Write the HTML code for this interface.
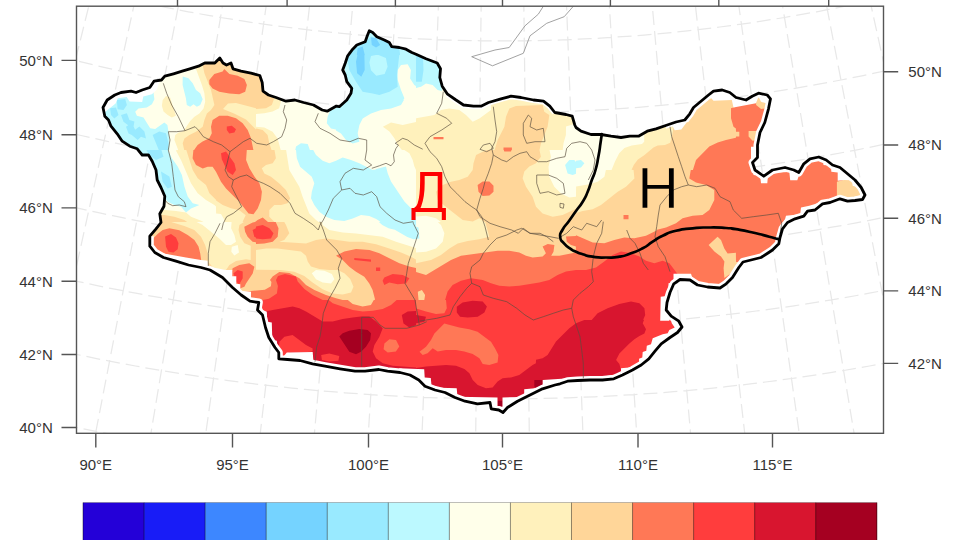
<!DOCTYPE html>
<html lang="mn"><head><meta charset="utf-8"><title>Map</title>
<style>html,body{margin:0;padding:0;background:#fff;overflow:hidden}svg{display:block}</style>
</head><body>
<svg width="960" height="540" viewBox="0 0 960 540">
<defs><clipPath id="frame"><rect x="76.5" y="6.2" width="807" height="427.1"/></clipPath>
<clipPath id="land"><path d="M103 107.5 L107.2 100 L114.8 95 L121 92.5 L131 91.2 L136 92.5 L142.2 90 L149.8 87.5 L154 81.2 L161.5 80 L164.8 76.2 L173.5 73.8 L182.2 71.2 L189.8 68.8 L198.5 66.2 L204.8 63 L214.8 63 L219.8 58 L223 63 L226.5 65 L231 63 L233 68.8 L241 71.2 L251 73.2 L259.8 75.5 L262.2 82.5 L263 91.2 L268.5 95 L276 97.5 L286 101.2 L294.8 100 L303.5 102.5 L313.5 105 L322.2 110 L327.2 111.2 L336 106.2 L339.3 106.7 L346.8 100 L351 93.3 L351.8 88.3 L346.8 81.7 L345.2 75 L342.7 70 L345.2 63.3 L347.7 55.8 L352.7 49.2 L356.8 45 L365.2 41.7 L367.3 35.8 L369.3 30.8 L372.7 32.5 L376.8 36.7 L384.3 40 L389.3 42.5 L391.8 46.7 L399.3 47.5 L406 49.2 L411.8 52.5 L416 54.2 L426 58.8 L437.2 63 L440.5 68.8 L439.8 77.5 L442.2 86.2 L447.2 93.8 L456 100 L463.5 105 L473.5 106.2 L481 106.2 L488.5 102.5 L501 98.8 L511 96.2 L521 97.5 L533.5 100 L543.5 101.2 L549.8 106.2 L554.8 112.5 L566 114.5 L572.2 116.2 L574.8 125 L576 127.5 L581 131.2 L591 134.5 L601 134.5 L611 136.2 L621 137.5 L629.8 136.2 L638.5 136.2 L647.2 131.2 L656 128.8 L667.2 125 L676 122 L684.8 120 L689.8 113.8 L693.5 107.5 L701 101.2 L708.5 95 L713.5 91.2 L722.2 90 L729.8 92.5 L736 97.5 L746 100 L752.2 96.2 L758.5 93.2 L767.2 95 L770.5 98.8 L768.5 108.8 L764.8 122.5 L760 132.5 L757.5 145 L757.5 157.5 L752.5 162.5 L755 170 L763.8 176.2 L772.5 170 L785 167.5 L793.8 170 L798.8 172.5 L803.8 163.8 L810 158.8 L818.8 157 L826.2 160 L832.5 165 L840 167.5 L847.5 173.8 L855 180 L861.2 187.5 L865 195 L862.5 199.5 L855 200.5 L847.5 201.2 L840 198.8 L830 202.5 L822.5 203.8 L815 210 L807.5 211.2 L803.8 216.2 L795 218.8 L787.5 222.5 L782.5 228.8 L780 237.5 L778.8 243.8 L772.5 250 L768 253 L761 257.5 L751 260 L743 262 L738.8 267.5 L732.5 277.5 L726.2 283.8 L720 288 L707.5 287 L697.5 285 L690 280 L680 279.5 L673.8 283.8 L670 292.5 L667 302.5 L666.2 310 L671.2 316.2 L678.8 321.2 L682 327 L677.5 332.5 L670 337.5 L661.2 343.8 L655 351.2 L648.8 358.8 L641.2 365 L632.5 370 L622.5 375 L613.8 378.8 L602.5 380 L590 380 L577.5 380.5 L567.5 381.2 L560 383.8 L555 385 L542.5 388.8 L530 395 L517.5 401.2 L507.5 407.5 L503 412.5 L498.8 410 L491.2 408.8 L490 402.5 L477.5 403.8 L465 401.2 L455 397.5 L445 392.5 L435 390 L425 386.2 L418.8 380 L410 375 L400 372.5 L387.5 371.2 L378.8 369.5 L365 371.2 L355 371.2 L340 368.8 L325 366.2 L312.5 363.8 L300 360.5 L287.5 359.5 L278.8 358.8 L278.8 352.5 L275 347.5 L268.8 337.5 L265.5 327.5 L262.5 315 L257.5 310 L258.8 302.5 L250 301.2 L241.2 295 L232.5 287.5 L222.5 277.5 L210 270 L201 267.5 L188.5 265 L176 261.2 L163.5 257.5 L154.8 252.5 L149.8 246.2 L149.8 236.2 L156 228.8 L161 222.5 L159.8 213.8 L164 206.2 L164.8 196.2 L161 187.5 L157.2 180 L156 170 L152.2 161.2 L148.5 155 L142.2 155 L137.2 148.8 L129.8 146.2 L122.2 141.2 L117.2 133.8 L111 126.2 L108.5 120 L104.8 116.2Z"/></clipPath></defs>
<rect width="960" height="540" fill="#fff"/>
<g clip-path="url(#frame)"><path d="M88.2587 -158.067 L-82.2866 463.168 M126.892 -147.99 L-27.7473 477.395 M165.771 -138.901 L27.1373 490.226 M204.868 -130.807 L82.3314 501.652 M244.159 -123.713 L137.799 511.666 M283.619 -117.624 L193.504 520.262 M323.221 -112.544 L249.41 527.433 M362.939 -108.476 L305.481 533.176 M402.749 -105.423 L361.681 537.487 M442.623 -103.386 L417.972 540.362 M482.537 -102.367 L474.318 541.8 M522.463 -102.367 L530.682 541.8 M562.377 -103.386 L587.028 540.362 M602.251 -105.423 L643.319 537.487 M642.061 -108.476 L699.519 533.176 M681.779 -112.544 L755.59 527.433 M721.381 -117.624 L811.496 520.262 M760.841 -123.713 L867.201 511.666 M800.132 -130.807 L922.669 501.652 M839.229 -138.901 L977.863 490.226 M878.108 -147.99 L1032.75 477.395 M916.741 -158.067 L1087.29 463.168 M-190.2 430.6 L-176.8 434.9 L-163.4 439.2 L-149.9 443.4 L-136.4 447.6 L-122.9 451.6 L-109.4 455.5 L-95.9 459.4 L-82.3 463.2 L-68.7 466.9 L-55.1 470.5 L-41.4 474 L-27.7 477.4 L-14.1 480.7 L-0.3 484 L13.4 487.1 L27.1 490.2 L40.9 493.2 L54.7 496.1 L68.5 498.9 L82.3 501.7 L96.2 504.3 L110 506.8 L123.9 509.3 L137.8 511.7 L151.7 513.9 L165.6 516.1 L179.6 518.2 L193.5 520.3 L207.5 522.2 L221.4 524 L235.4 525.8 L249.4 527.4 L263.4 529 L277.4 530.5 L291.5 531.9 L305.5 533.2 L319.5 534.4 L333.6 535.5 L347.6 536.5 L361.7 537.5 L375.7 538.3 L389.8 539.1 L403.9 539.8 L418 540.4 L432.1 540.9 L446.1 541.3 L460.2 541.6 L474.3 541.8 L488.4 541.9 L502.5 542 L516.6 541.9 L530.7 541.8 L544.8 541.6 L558.9 541.3 L572.9 540.9 L587 540.4 L601.1 539.8 L615.2 539.1 L629.3 538.3 L643.3 537.5 L657.4 536.5 L671.4 535.5 L685.5 534.4 L699.5 533.2 L713.5 531.9 L727.6 530.5 L741.6 529 L755.6 527.4 L769.6 525.8 L783.6 524 L797.5 522.2 L811.5 520.3 L825.4 518.2 L839.4 516.1 L853.3 513.9 L867.2 511.7 L881.1 509.3 L895 506.8 L908.8 504.3 L922.7 501.7 L936.5 498.9 L950.3 496.1 L964.1 493.2 L977.9 490.2 L991.6 487.1 L1005.3 484 L1019.1 480.7 L1032.7 477.4 L1046.4 474 L1060.1 470.5 L1073.7 466.9 L1087.3 463.2 L1100.9 459.4 L1114.4 455.5 L1127.9 451.6 L1141.4 447.6 L1154.9 443.4 L1168.4 439.2 L1181.8 434.9 L1195.2 430.6 M-167.7 362.6 L-154.8 366.8 L-141.8 371 L-128.8 375 L-115.7 379 L-102.7 382.9 L-89.6 386.8 L-76.5 390.5 L-63.3 394.1 L-50.2 397.7 L-37 401.2 L-23.8 404.6 L-10.6 407.9 L2.7 411.1 L15.9 414.3 L29.2 417.3 L42.5 420.3 L55.9 423.2 L69.2 426 L82.6 428.7 L95.9 431.4 L109.3 433.9 L122.8 436.4 L136.2 438.8 L149.6 441.1 L163.1 443.3 L176.5 445.4 L190 447.4 L203.5 449.4 L217 451.2 L230.5 453 L244.1 454.7 L257.6 456.3 L271.2 457.8 L284.7 459.3 L298.3 460.6 L311.9 461.9 L325.4 463.1 L339 464.1 L352.6 465.1 L366.2 466.1 L379.9 466.9 L393.5 467.6 L407.1 468.3 L420.7 468.8 L434.3 469.3 L448 469.7 L461.6 470 L475.2 470.2 L488.9 470.4 L502.5 470.4 L516.1 470.4 L529.8 470.2 L543.4 470 L557 469.7 L570.7 469.3 L584.3 468.8 L597.9 468.3 L611.5 467.6 L625.1 466.9 L638.8 466.1 L652.4 465.1 L666 464.1 L679.6 463.1 L693.1 461.9 L706.7 460.6 L720.3 459.3 L733.8 457.8 L747.4 456.3 L760.9 454.7 L774.5 453 L788 451.2 L801.5 449.4 L815 447.4 L828.5 445.4 L841.9 443.3 L855.4 441.1 L868.8 438.8 L882.2 436.4 L895.7 433.9 L909.1 431.4 L922.4 428.7 L935.8 426 L949.1 423.2 L962.5 420.3 L975.8 417.3 L989.1 414.3 L1002.3 411.1 L1015.6 407.9 L1028.8 404.6 L1042 401.2 L1055.2 397.7 L1068.3 394.1 L1081.5 390.5 L1094.6 386.8 L1107.7 382.9 L1120.7 379 L1133.8 375 L1146.8 371 L1159.8 366.8 L1172.7 362.6 M-145.3 294.6 L-132.8 298.7 L-120.2 302.7 L-107.6 306.7 L-95 310.5 L-82.4 314.3 L-69.8 318 L-57.1 321.6 L-44.4 325.1 L-31.7 328.6 L-18.9 331.9 L-6.2 335.2 L6.6 338.4 L19.4 341.5 L32.2 344.6 L45.1 347.5 L57.9 350.4 L70.8 353.2 L83.7 355.9 L96.6 358.6 L109.6 361.1 L122.5 363.6 L135.5 366 L148.4 368.3 L161.4 370.5 L174.4 372.6 L187.5 374.7 L200.5 376.6 L213.5 378.5 L226.6 380.3 L239.6 382 L252.7 383.7 L265.8 385.2 L278.9 386.7 L292 388.1 L305.1 389.4 L318.2 390.6 L331.4 391.7 L344.5 392.8 L357.7 393.7 L370.8 394.6 L384 395.4 L397.1 396.1 L410.3 396.8 L423.4 397.3 L436.6 397.8 L449.8 398.1 L463 398.4 L476.1 398.7 L489.3 398.8 L502.5 398.8 L515.7 398.8 L528.9 398.7 L542 398.4 L555.2 398.1 L568.4 397.8 L581.6 397.3 L594.7 396.8 L607.9 396.1 L621 395.4 L634.2 394.6 L647.3 393.7 L660.5 392.8 L673.6 391.7 L686.8 390.6 L699.9 389.4 L713 388.1 L726.1 386.7 L739.2 385.2 L752.3 383.7 L765.4 382 L778.4 380.3 L791.5 378.5 L804.5 376.6 L817.5 374.7 L830.6 372.6 L843.6 370.5 L856.6 368.3 L869.5 366 L882.5 363.6 L895.4 361.1 L908.4 358.6 L921.3 355.9 L934.2 353.2 L947.1 350.4 L959.9 347.5 L972.8 344.6 L985.6 341.5 L998.4 338.4 L1011.2 335.2 L1023.9 331.9 L1036.7 328.6 L1049.4 325.1 L1062.1 321.6 L1074.8 318 L1087.4 314.3 L1100 310.5 L1112.6 306.7 L1125.2 302.7 L1137.8 298.7 L1150.3 294.6 M-122.9 226.7 L-110.8 230.6 L-98.6 234.5 L-86.5 238.3 L-74.3 242 L-62.1 245.6 L-49.9 249.2 L-37.7 252.7 L-25.4 256.1 L-13.2 259.4 L-0.9 262.7 L11.5 265.8 L23.8 268.9 L36.2 271.9 L48.5 274.9 L60.9 277.7 L73.3 280.5 L85.8 283.2 L98.2 285.8 L110.7 288.4 L123.2 290.8 L135.7 293.2 L148.2 295.5 L160.7 297.7 L173.3 299.9 L185.8 301.9 L198.4 303.9 L211 305.8 L223.5 307.6 L236.1 309.4 L248.8 311 L261.4 312.6 L274 314.1 L286.7 315.5 L299.3 316.9 L312 318.1 L324.6 319.3 L337.3 320.4 L350 321.4 L362.7 322.3 L375.4 323.2 L388.1 324 L400.8 324.6 L413.5 325.3 L426.2 325.8 L438.9 326.2 L451.6 326.6 L464.3 326.9 L477.1 327.1 L489.8 327.2 L502.5 327.2 L515.2 327.2 L527.9 327.1 L540.7 326.9 L553.4 326.6 L566.1 326.2 L578.8 325.8 L591.5 325.3 L604.2 324.6 L616.9 324 L629.6 323.2 L642.3 322.3 L655 321.4 L667.7 320.4 L680.4 319.3 L693 318.1 L705.7 316.9 L718.3 315.5 L731 314.1 L743.6 312.6 L756.2 311 L768.9 309.4 L781.5 307.6 L794 305.8 L806.6 303.9 L819.2 301.9 L831.7 299.9 L844.3 297.7 L856.8 295.5 L869.3 293.2 L881.8 290.8 L894.3 288.4 L906.8 285.8 L919.2 283.2 L931.7 280.5 L944.1 277.7 L956.5 274.9 L968.8 271.9 L981.2 268.9 L993.5 265.8 L1005.9 262.7 L1018.2 259.4 L1030.4 256.1 L1042.7 252.7 L1054.9 249.2 L1067.1 245.6 L1079.3 242 L1091.5 238.3 L1103.6 234.5 L1115.8 230.6 L1127.9 226.7 M-100.4 158.7 L-88.7 162.5 L-77.1 166.2 L-65.4 169.9 L-53.6 173.5 L-41.9 177 L-30.1 180.4 L-18.3 183.8 L-6.5 187.1 L5.3 190.3 L17.2 193.4 L29.1 196.5 L41 199.4 L52.9 202.4 L64.8 205.2 L76.8 207.9 L88.8 210.6 L100.7 213.2 L112.7 215.7 L124.8 218.2 L136.8 220.6 L148.8 222.9 L160.9 225.1 L173 227.2 L185.1 229.3 L197.2 231.3 L209.3 233.2 L221.4 235 L233.6 236.8 L245.7 238.4 L257.9 240 L270 241.6 L282.2 243 L294.4 244.4 L306.6 245.7 L318.8 246.9 L331 248 L343.2 249.1 L355.5 250 L367.7 250.9 L379.9 251.7 L392.2 252.5 L404.4 253.2 L416.7 253.7 L428.9 254.3 L441.2 254.7 L453.4 255 L465.7 255.3 L478 255.5 L490.2 255.6 L502.5 255.7 L514.8 255.6 L527 255.5 L539.3 255.3 L551.6 255 L563.8 254.7 L576.1 254.3 L588.3 253.7 L600.6 253.2 L612.8 252.5 L625.1 251.7 L637.3 250.9 L649.5 250 L661.8 249.1 L674 248 L686.2 246.9 L698.4 245.7 L710.6 244.4 L722.8 243 L735 241.6 L747.1 240 L759.3 238.4 L771.4 236.8 L783.6 235 L795.7 233.2 L807.8 231.3 L819.9 229.3 L832 227.2 L844.1 225.1 L856.2 222.9 L868.2 220.6 L880.2 218.2 L892.3 215.7 L904.3 213.2 L916.2 210.6 L928.2 207.9 L940.2 205.2 L952.1 202.4 L964 199.4 L975.9 196.5 L987.8 193.4 L999.7 190.3 L1011.5 187.1 L1023.3 183.8 L1035.1 180.4 L1046.9 177 L1058.6 173.5 L1070.4 169.9 L1082.1 166.2 L1093.7 162.5 L1105.4 158.7 M-78 90.7 L-66.7 94.4 L-55.5 98 L-44.2 101.5 L-32.9 105 L-21.6 108.3 L-10.3 111.6 L1.1 114.9 L12.5 118 L23.9 121.1 L35.3 124.1 L46.7 127.1 L58.2 130 L69.6 132.8 L81.1 135.5 L92.6 138.1 L104.2 140.7 L115.7 143.2 L127.3 145.6 L138.8 148 L150.4 150.3 L162 152.5 L173.6 154.6 L185.2 156.7 L196.9 158.7 L208.5 160.6 L220.2 162.4 L231.9 164.2 L243.6 165.9 L255.3 167.5 L267 169 L278.7 170.5 L290.4 171.9 L302.2 173.2 L313.9 174.4 L325.6 175.6 L337.4 176.7 L349.2 177.7 L360.9 178.7 L372.7 179.5 L384.5 180.3 L396.3 181 L408.1 181.7 L419.9 182.2 L431.7 182.7 L443.5 183.1 L455.3 183.5 L467.1 183.7 L478.9 183.9 L490.7 184 L502.5 184.1 L514.3 184 L526.1 183.9 L537.9 183.7 L549.7 183.5 L561.5 183.1 L573.3 182.7 L585.1 182.2 L596.9 181.7 L608.7 181 L620.5 180.3 L632.3 179.5 L644.1 178.7 L655.8 177.7 L667.6 176.7 L679.4 175.6 L691.1 174.4 L702.8 173.2 L714.6 171.9 L726.3 170.5 L738 169 L749.7 167.5 L761.4 165.9 L773.1 164.2 L784.8 162.4 L796.5 160.6 L808.1 158.7 L819.8 156.7 L831.4 154.6 L843 152.5 L854.6 150.3 L866.2 148 L877.7 145.6 L889.3 143.2 L900.8 140.7 L912.4 138.1 L923.9 135.5 L935.4 132.8 L946.8 130 L958.3 127.1 L969.7 124.1 L981.1 121.1 L992.5 118 L1003.9 114.9 L1015.3 111.6 L1026.6 108.3 L1037.9 105 L1049.2 101.5 L1060.5 98 L1071.7 94.4 L1083 90.7 M-55.5 22.7 L-44.7 26.3 L-33.9 29.7 L-23.1 33.1 L-12.2 36.4 L-1.3 39.7 L9.6 42.9 L20.5 46 L31.4 49 L42.4 52 L53.3 54.9 L64.3 57.7 L75.3 60.5 L86.4 63.2 L97.4 65.8 L108.5 68.3 L119.6 70.8 L130.7 73.2 L141.8 75.6 L152.9 77.8 L164 80 L175.2 82.1 L186.3 84.2 L197.5 86.2 L208.7 88.1 L219.9 89.9 L231.1 91.7 L242.3 93.4 L253.6 95 L264.8 96.6 L276.1 98 L287.3 99.4 L298.6 100.8 L309.9 102 L321.2 103.2 L332.5 104.4 L343.8 105.4 L355.1 106.4 L366.4 107.3 L377.7 108.1 L389.1 108.9 L400.4 109.6 L411.7 110.2 L423.1 110.7 L434.4 111.2 L445.8 111.6 L457.1 111.9 L468.4 112.2 L479.8 112.4 L491.1 112.5 L502.5 112.5 L513.9 112.5 L525.2 112.4 L536.6 112.2 L547.9 111.9 L559.2 111.6 L570.6 111.2 L581.9 110.7 L593.3 110.2 L604.6 109.6 L615.9 108.9 L627.3 108.1 L638.6 107.3 L649.9 106.4 L661.2 105.4 L672.5 104.4 L683.8 103.2 L695.1 102 L706.4 100.8 L717.7 99.4 L728.9 98 L740.2 96.6 L751.4 95 L762.7 93.4 L773.9 91.7 L785.1 89.9 L796.3 88.1 L807.5 86.2 L818.7 84.2 L829.8 82.1 L841 80 L852.1 77.8 L863.2 75.6 L874.3 73.2 L885.4 70.8 L896.5 68.3 L907.6 65.8 L918.6 63.2 L929.7 60.5 L940.7 57.7 L951.7 54.9 L962.6 52 L973.6 49 L984.5 46 L995.4 42.9 L1006.3 39.7 L1017.2 36.4 L1028.1 33.1 L1038.9 29.7 L1049.7 26.3 L1060.5 22.7 M-33.1 -45.2 L-22.7 -41.8 L-12.3 -38.5 L-1.9 -35.3 L8.5 -32.1 L18.9 -29 L29.4 -25.9 L39.9 -22.9 L50.4 -20 L60.9 -17.2 L71.4 -14.4 L82 -11.7 L92.5 -9 L103.1 -6.4 L113.7 -3.9 L124.3 -1.5 L135 0.9 L145.6 3.2 L156.3 5.5 L166.9 7.6 L177.6 9.7 L188.3 11.8 L199.1 13.7 L209.8 15.6 L220.5 17.5 L231.3 19.2 L242 20.9 L252.8 22.6 L263.6 24.1 L274.4 25.6 L285.2 27 L296 28.4 L306.8 29.7 L317.6 30.9 L328.5 32 L339.3 33.1 L350.2 34.1 L361 35.1 L371.9 35.9 L382.8 36.7 L393.6 37.4 L404.5 38.1 L415.4 38.7 L426.3 39.2 L437.1 39.7 L448 40.1 L458.9 40.4 L469.8 40.6 L480.7 40.8 L491.6 40.9 L502.5 40.9 L513.4 40.9 L524.3 40.8 L535.2 40.6 L546.1 40.4 L557 40.1 L567.9 39.7 L578.7 39.2 L589.6 38.7 L600.5 38.1 L611.4 37.4 L622.2 36.7 L633.1 35.9 L644 35.1 L654.8 34.1 L665.7 33.1 L676.5 32 L687.4 30.9 L698.2 29.7 L709 28.4 L719.8 27 L730.6 25.6 L741.4 24.1 L752.2 22.6 L763 20.9 L773.7 19.2 L784.5 17.5 L795.2 15.6 L805.9 13.7 L816.7 11.8 L827.4 9.7 L838.1 7.6 L848.7 5.5 L859.4 3.2 L870 0.9 L880.7 -1.5 L891.3 -3.9 L901.9 -6.4 L912.5 -9 L923 -11.7 L933.6 -14.4 L944.1 -17.2 L954.6 -20 L965.1 -22.9 L975.6 -25.9 L986.1 -29 L996.5 -32.1 L1006.9 -35.3 L1017.3 -38.5 L1027.7 -41.8 L1038.1 -45.2 M-10.6 -113.2 L-0.7 -110 L9.2 -106.8 L19.2 -103.7 L29.2 -100.6 L39.2 -97.6 L49.2 -94.7 L59.3 -91.8 L69.3 -89 L79.4 -86.3 L89.5 -83.6 L99.6 -81 L109.7 -78.5 L119.9 -76 L130 -73.6 L140.2 -71.3 L150.4 -69 L160.6 -66.8 L170.8 -64.6 L181 -62.6 L191.3 -60.5 L201.5 -58.6 L211.8 -56.7 L222.1 -54.9 L232.3 -53.1 L242.6 -51.4 L253 -49.8 L263.3 -48.2 L273.6 -46.7 L283.9 -45.3 L294.3 -44 L304.7 -42.7 L315 -41.4 L325.4 -40.3 L335.8 -39.2 L346.2 -38.1 L356.6 -37.2 L367 -36.3 L377.4 -35.5 L387.8 -34.7 L398.2 -34 L408.6 -33.4 L419 -32.8 L429.5 -32.3 L439.9 -31.9 L450.3 -31.5 L460.8 -31.2 L471.2 -31 L481.6 -30.8 L492.1 -30.7 L502.5 -30.7 L512.9 -30.7 L523.4 -30.8 L533.8 -31 L544.2 -31.2 L554.7 -31.5 L565.1 -31.9 L575.5 -32.3 L586 -32.8 L596.4 -33.4 L606.8 -34 L617.2 -34.7 L627.6 -35.5 L638 -36.3 L648.4 -37.2 L658.8 -38.1 L669.2 -39.2 L679.6 -40.3 L690 -41.4 L700.3 -42.7 L710.7 -44 L721.1 -45.3 L731.4 -46.7 L741.7 -48.2 L752 -49.8 L762.4 -51.4 L772.7 -53.1 L782.9 -54.9 L793.2 -56.7 L803.5 -58.6 L813.7 -60.5 L824 -62.6 L834.2 -64.6 L844.4 -66.8 L854.6 -69 L864.8 -71.3 L875 -73.6 L885.1 -76 L895.3 -78.5 L905.4 -81 L915.5 -83.6 L925.6 -86.3 L935.7 -89 L945.7 -91.8 L955.8 -94.7 L965.8 -97.6 L975.8 -100.6 L985.8 -103.7 L995.8 -106.8 L1005.7 -110 L1015.6 -113.2" fill="none" stroke="#e8e8e8" stroke-width="1.25" stroke-dasharray="14 6"/></g>
<g clip-path="url(#frame)"><path d="M543.3 6.3 L538.3 14.2 L525 25.8 L509.2 47.5 L495 50 L471.7 56.7 L492.5 65.8 L523.3 53.3 L530 35.8 L546.7 23.3 L564.2 16.7 L573.3 6.3 L585 -8 L535 -8Z" fill="none" stroke="#8a8a8a" stroke-width="0.8"/></g>
<g clip-path="url(#land)">
<path d="M103 107.5 L107.2 100 L114.8 95 L121 92.5 L131 91.2 L136 92.5 L142.2 90 L149.8 87.5 L154 81.2 L161.5 80 L164.8 76.2 L173.5 73.8 L182.2 71.2 L189.8 68.8 L198.5 66.2 L204.8 63 L214.8 63 L219.8 58 L223 63 L226.5 65 L231 63 L233 68.8 L241 71.2 L251 73.2 L259.8 75.5 L262.2 82.5 L263 91.2 L268.5 95 L276 97.5 L286 101.2 L294.8 100 L303.5 102.5 L313.5 105 L322.2 110 L327.2 111.2 L336 106.2 L339.3 106.7 L346.8 100 L351 93.3 L351.8 88.3 L346.8 81.7 L345.2 75 L342.7 70 L345.2 63.3 L347.7 55.8 L352.7 49.2 L356.8 45 L365.2 41.7 L367.3 35.8 L369.3 30.8 L372.7 32.5 L376.8 36.7 L384.3 40 L389.3 42.5 L391.8 46.7 L399.3 47.5 L406 49.2 L411.8 52.5 L416 54.2 L426 58.8 L437.2 63 L440.5 68.8 L439.8 77.5 L442.2 86.2 L447.2 93.8 L456 100 L463.5 105 L473.5 106.2 L481 106.2 L488.5 102.5 L501 98.8 L511 96.2 L521 97.5 L533.5 100 L543.5 101.2 L549.8 106.2 L554.8 112.5 L566 114.5 L572.2 116.2 L574.8 125 L576 127.5 L581 131.2 L591 134.5 L601 134.5 L611 136.2 L621 137.5 L629.8 136.2 L638.5 136.2 L647.2 131.2 L656 128.8 L667.2 125 L676 122 L684.8 120 L689.8 113.8 L693.5 107.5 L701 101.2 L708.5 95 L713.5 91.2 L722.2 90 L729.8 92.5 L736 97.5 L746 100 L752.2 96.2 L758.5 93.2 L767.2 95 L770.5 98.8 L768.5 108.8 L764.8 122.5 L760 132.5 L757.5 145 L757.5 157.5 L752.5 162.5 L755 170 L763.8 176.2 L772.5 170 L785 167.5 L793.8 170 L798.8 172.5 L803.8 163.8 L810 158.8 L818.8 157 L826.2 160 L832.5 165 L840 167.5 L847.5 173.8 L855 180 L861.2 187.5 L865 195 L862.5 199.5 L855 200.5 L847.5 201.2 L840 198.8 L830 202.5 L822.5 203.8 L815 210 L807.5 211.2 L803.8 216.2 L795 218.8 L787.5 222.5 L782.5 228.8 L780 237.5 L778.8 243.8 L772.5 250 L768 253 L761 257.5 L751 260 L743 262 L738.8 267.5 L732.5 277.5 L726.2 283.8 L720 288 L707.5 287 L697.5 285 L690 280 L680 279.5 L673.8 283.8 L670 292.5 L667 302.5 L666.2 310 L671.2 316.2 L678.8 321.2 L682 327 L677.5 332.5 L670 337.5 L661.2 343.8 L655 351.2 L648.8 358.8 L641.2 365 L632.5 370 L622.5 375 L613.8 378.8 L602.5 380 L590 380 L577.5 380.5 L567.5 381.2 L560 383.8 L555 385 L542.5 388.8 L530 395 L517.5 401.2 L507.5 407.5 L503 412.5 L498.8 410 L491.2 408.8 L490 402.5 L477.5 403.8 L465 401.2 L455 397.5 L445 392.5 L435 390 L425 386.2 L418.8 380 L410 375 L400 372.5 L387.5 371.2 L378.8 369.5 L365 371.2 L355 371.2 L340 368.8 L325 366.2 L312.5 363.8 L300 360.5 L287.5 359.5 L278.8 358.8 L278.8 352.5 L275 347.5 L268.8 337.5 L265.5 327.5 L262.5 315 L257.5 310 L258.8 302.5 L250 301.2 L241.2 295 L232.5 287.5 L222.5 277.5 L210 270 L201 267.5 L188.5 265 L176 261.2 L163.5 257.5 L154.8 252.5 L149.8 246.2 L149.8 236.2 L156 228.8 L161 222.5 L159.8 213.8 L164 206.2 L164.8 196.2 L161 187.5 L157.2 180 L156 170 L152.2 161.2 L148.5 155 L142.2 155 L137.2 148.8 L129.8 146.2 L122.2 141.2 L117.2 133.8 L111 126.2 L108.5 120 L104.8 116.2Z" fill="#FFD699"/>
<path d="M256 20 L256 55 L274.3 55.1 L274.3 98 L271.8 104.9 L266 108.3 L256.1 109 L256 108.2 L236 103 L228 103.4 L223 109 L234 113.5 L246 119.5 L256 129.4 L256.2 128.6 L262.7 130.1 L267.6 135 L269.3 143.3 L271.5 150 L274.5 150.1 L275.9 158.3 L272.7 163.3 L266 165 L261.8 168.3 L264.3 173.4 L271 176.7 L279.3 183.4 L285.9 190 L290.1 198.3 L287.6 203.3 L281 204.9 L274.3 205 L269.3 210 L269.3 216.7 L274.5 222 L284.3 222.1 L286 225 L289.3 233.3 L284.3 239.9 L279.3 241.7 L306 243.4 L316 240 L326 238.4 L349.3 241.7 L362.7 241.7 L376 244.2 L389.3 248.4 L401 252.5 L411 256.7 L415.9 259.5 L416 263.2 L431 260 L441 255 L449.4 248.4 L457.7 243.4 L467.7 240.9 L479.3 239.2 L489.4 236.7 L485.2 222 L484.5 221.9 L479.3 218.3 L472.7 221.6 L462.7 219.9 L447.7 208.3 L437.7 200 L436.1 191.7 L442.7 185 L451 181.7 L459.3 180 L467.7 176.7 L472.7 170 L473.5 163.3 L476.1 155 L482.7 151.7 L487.1 150.1 L494.6 150 L497.7 140 L504.4 126.7 L506 116.7 L509.4 108.4 L516 105.9 L542.6 105.1 L544.3 111.7 L549.3 115 L547.6 126.7 L541 143.3 L539.5 150 L540.9 156.7 L536 163.3 L529.3 166.6 L524.3 171.6 L522.6 178.3 L526 186.7 L532.6 196.7 L536 206.7 L542.6 213.4 L552.7 216.7 L562.7 215 L575.8 208.8 L576 213.1 L582.7 210.9 L592.7 209.2 L601 205 L617.7 191.7 L626 186.7 L634.4 178.4 L633.6 170 L631.6 169.8 L633.9 164.7 L637.9 159.4 L644.2 155.2 L653.5 147.4 L657.7 145.4 L665 144.9 L670.2 142.7 L672.4 134.3 L676 113.3 L576.1 113.3 L576 50 L416.1 49.9 L416 20 L256 20Z M312.6 282.5 L322.6 289.2 L332.6 293.4 L342.7 294.5 L351 292.5 L353.5 286.7 L350.2 279.1 L344.4 273.3 L337.7 270 L329.3 269.9 L319.4 269.1 L311 266.6 L307.7 261.6 L306 255.8 L301 251.6 L277.7 248.6 L266 248.6 L256 249.9 L256 269.7 L281 270 L294.3 271.7 L304.3 275.9 L312.6 282.5Z M196 131.7 L202.7 126.7 L204.4 120 L206.9 113.4 L211 110 L214.4 105 L211 90 L204.4 73.3 L202.7 65 L202.7 50 L90 50 L90 150 L129.9 150.1 L130 215.4 L164.3 215.1 L174.3 216.7 L184.3 220.1 L187.2 221.9 L171.2 222 L184.3 225.9 L194.3 230 L201 236.7 L205.1 245 L207.6 253.3 L208 261.7 L214.3 268.7 L226 270 L229.4 265 L236 260.9 L246 259.2 L250.7 260.1 L250.7 245.8 L244.4 243.3 L240.2 236.7 L238.6 230 L239.4 225 L243.9 222 L242.6 221.8 L245.7 215.3 L239.4 210.3 L231 208.3 L222.7 205 L216.1 200.6 L216 199.7 L209.4 193.3 L206 185 L197.7 178.3 L192.7 170 L186.3 150 L184.2 149.9 L182.7 143.3 L184.4 138.4 L189.4 135 L196 131.7Z" fill="#FFF1BC" fill-rule="evenodd"/>
<path d="M611.6 170 L615 161.5 L619.2 153.2 L624.4 147.9 L631.7 145.4 L642 143.9 L644.2 141.7 L644.2 113.3 L576 113.3 L575.9 123.5 L566 126.6 L565.9 135 L563.5 143.3 L562.7 149.9 L549.5 150 L550.9 156.7 L548.5 166.7 L549.3 176.7 L554.3 186.7 L561 193.4 L569.3 197.5 L576 196.8 L576.1 186.6 L589.3 184.2 L597.7 181.7 L604.4 176.7 L605.9 170.1 L611.6 170Z M256 20 L256 55 L280.9 55.1 L281 100.8 L279.2 108.3 L272.6 111.6 L264.3 113.3 L256 114.1 L256 126.8 L264.3 127.6 L272.6 131.7 L277.6 138.4 L280.7 150 L286.1 150.1 L289.3 170 L299.3 186.7 L302.6 196.7 L309.3 213.4 L316 220 L318.6 222 L322.2 222.1 L322.6 225 L329.3 230 L342.7 232.5 L356 233.4 L382.7 236.7 L396 241.7 L415.9 248.1 L416 252.5 L426 251.7 L436 248.4 L442.7 241.7 L444.4 233.3 L441 225 L437.9 222.2 L440.9 222 L436 218.3 L426 215.8 L416.1 216.5 L416 170 L414.4 166.6 L412.7 160 L409.4 153.3 L404.3 150 L402 149.9 L397.7 145 L394.4 138.3 L389.4 131.6 L382.9 126.7 L391 122.6 L402.7 125 L416 121.9 L416.1 118.2 L434.3 115 L441 110 L449.3 108.4 L459.3 110.1 L466 115 L472.7 121.7 L479.4 118.4 L491 110 L491 102.5 L487.6 103.3 L482.6 106.6 L474.3 106.6 L466 105.8 L461.9 103.3 L455.2 100.8 L443.6 90.8 L443.5 50 L416.1 49.9 L416 20 L256 20Z M322.7 282.5 L331 283.4 L334.4 279.2 L331.9 274.1 L324.3 270.8 L316 270 L311.8 273.3 L316 279.2 L322.7 282.5Z M234.3 255.4 L239 252.5 L237.7 245 L231.8 246.7 L231.3 251.7 L234.3 255.4Z M183.5 130.9 L190.2 120.9 L194.4 116.7 L199.4 113.4 L203.5 108.4 L205.2 101.7 L204.4 93.3 L201.9 85 L196.1 69.2 L196 50 L90 50 L90 150 L129.9 150.1 L130 210.4 L165.2 210.1 L176 210.9 L186 212.5 L191 216.7 L203.6 221.8 L196.6 222 L202.6 225 L219.3 238.4 L226 245 L231 245 L236 241.7 L234.4 235 L231.1 228.3 L231.6 222 L224.3 221.9 L224.4 220 L221 214.1 L216.1 213.4 L216 206.4 L214.4 205 L206 200 L197.7 193.3 L191 183.3 L181 160 L175.8 150.2 L178.2 150 L174.4 140 L175.2 135 L178.5 132.5 L183.5 130.9Z M175.9 115.7 L171.8 117.4 L167.7 115 L163.5 111.6 L161.9 105.8 L162.7 100 L166 95.9 L170.1 97.6 L175.9 115.7Z" fill="#FFFFEA" fill-rule="evenodd"/>
<path d="M581 167.5 L584.4 163.3 L581 160 L576 160.7 L575.8 161.9 L574.3 160 L569.3 160 L565.1 165 L567.6 173.4 L572.7 175 L576 173.7 L576.1 168.3 L581 167.5Z M256 20 L256 55 L342.7 55.1 L346 76.7 L352.6 90 L346.9 99.9 L336 100 L335.9 108.3 L330.1 110.8 L327.6 116.7 L326.8 123.3 L331 128.4 L335.9 129.6 L336 130.5 L341 133.4 L346 140 L352.6 143.4 L359.4 141.7 L357.7 133.3 L359.4 125 L362.7 118.4 L371 113.4 L381 110 L391 108.4 L401 105 L403.9 100 L403.4 99.8 L404.4 98.3 L401 90 L397.7 80 L397.7 70 L401 65.1 L407.7 64.3 L410.9 70 L410.1 78.4 L414.3 85 L415.9 86.1 L416 88.1 L421 86.7 L426 83.4 L432.6 85 L437.6 90 L441.9 90.9 L440.2 73.3 L439.4 50 L416.1 49.9 L416 20 L256 20Z M307.7 144.1 L301 143.3 L296 146.6 L295.3 150 L296 150.1 L296.8 158.3 L300.1 166.7 L311.8 176.7 L314.3 183.3 L311.8 191.7 L311 198.3 L314.3 205 L319.3 211.7 L326 216.7 L334.3 220.1 L344.3 220.9 L352.7 218.4 L361 215.1 L369.3 215.9 L376.2 219.1 L380.5 221.8 L378.9 222 L382.3 225 L388.5 228.2 L394.8 229.7 L407.3 237 L413.5 239.2 L419.4 238.4 L418.5 227.5 L416.1 226.8 L416 211.5 L411 208.3 L404.4 201.6 L391 181.6 L387.7 173.3 L386 166.6 L376 169 L375.9 169.4 L372.7 169.9 L359.3 163.3 L351 160 L342.7 157.5 L336 160.8 L329.3 163.3 L322.7 160.8 L316 155 L313.2 150 L309.9 149.9 L307.7 144.1Z M186.8 105 L190.2 106.7 L193.5 104.3 L196.9 106.7 L200.2 105 L202.7 99.2 L200.2 93.3 L196 90 L192.7 83.3 L188.5 78.3 L182.7 76.6 L182.6 85 L185.9 98.3 L186.8 105Z M167.4 125 L164.3 122.5 L155.2 129.1 L150.2 128.3 L143.5 117.5 L136.9 115.8 L135.2 111.7 L138.5 108.4 L146.8 107.5 L151.9 104.2 L154.4 99.2 L153.6 93.3 L153.5 76.6 L90 76.6 L90 150 L129.9 150.1 L130 198.4 L165.1 198.4 L167.6 201.7 L174.3 205 L181 206.7 L186 212.5 L191 208.4 L199.4 205 L192.7 203.3 L187.7 196.6 L184.4 186.6 L181.9 175 L177.7 166.6 L171.9 158.3 L168.2 150.2 L169.4 150 L169.4 140 L168.5 131.7 L167.4 125Z" fill="#BCF9FF" fill-rule="evenodd"/>
<path d="M416 50 L416 81.7 L421.8 81.7 L423.5 70 L422.7 50 L416 50Z M399.4 48.3 L391.9 47.5 L389.4 43.3 L384.3 40.8 L377.7 38.3 L371 36.6 L364.3 42.5 L356 45 L349.3 50 L348.1 54.9 L346.9 55 L349.3 70 L356 81.7 L362.6 91.7 L372.7 93.4 L379.3 95 L389.4 91.7 L397.7 86.7 L396.9 75 L399.3 55.1 L400.1 55 L399.4 48.3Z M385.9 58 L387.6 66.7 L384.6 74.1 L376.3 75.8 L371 70.3 L369.4 62.5 L371 55.9 L375.8 55.1 L378.5 55.1 L385.9 58Z M167.6 188.4 L171.9 186.7 L169.4 176.6 L161 171.6 L162.6 181.7 L167.6 188.4Z M168.5 143.3 L166 133.3 L159.3 131.6 L152.6 135 L158.8 149.9 L146.4 150 L149.3 155 L156 160 L163.5 156.7 L161.4 150.1 L167.8 150 L168.5 143.3Z M126.9 113.3 L121 115 L123.5 121.7 L128.2 125.2 L126 126.7 L128.5 133.4 L131.8 135 L137.7 140 L141 136.7 L146 138.4 L144.4 131.6 L139.4 126.6 L135.1 129.8 L133.6 126.6 L134.4 121.6 L129.4 119.9 L126.9 113.3Z M126.9 105 L125.2 99.1 L116.8 100 L117.6 109.2 L123.5 110 L126.9 105Z M118.5 115 L116 107.5 L110.1 108.3 L111 115 L114.3 118.4 L118.5 115Z" fill="#99EAFF" fill-rule="evenodd"/>
<path d="M376 47.5 L380.2 45 L376 38.3 L371 37.5 L371.8 45 L376 47.5Z M362.7 46.6 L357.6 48.3 L356.8 55 L357.4 55.2 L356 61.7 L357.1 73.3 L361.3 76.7 L364.7 70 L364.4 55.2 L364.8 55 L362.7 46.6Z" fill="#75D3FF" fill-rule="evenodd"/>
<path d="M369.4 250 L356 249.1 L344.3 251.6 L336 255.8 L342.6 260 L349.3 266.7 L356 271.7 L364.3 276.7 L369.3 283.4 L372.6 290 L375.1 299.8 L373.8 300 L370.9 305 L362.6 306.6 L352.7 304.1 L347.8 300 L342.7 299.9 L336 298.3 L326 295 L314.4 290 L306 285 L299.4 278.3 L289.4 273 L279.3 272 L272.6 276.6 L270 280 L271.4 282 L270.9 286.3 L264.8 289.8 L246 291.5 L236 293.3 L236 310.9 L249.9 311 L250 395 L415.9 395.1 L416 420 L536 420 L536.1 400.1 L700 400 L700.1 320.1 L736 320 L736 270.5 L731 273.3 L724.4 278.1 L723.6 268.3 L724.4 261.6 L721 256.6 L714.4 251.6 L708.6 245 L717.6 236.8 L721 240 L724.3 248.4 L727.6 253.4 L735.9 252.7 L736 262 L900 262 L900 70 L736 70 L735.9 106.8 L731 108.3 L731 118.3 L733.5 126.7 L735.9 128.6 L736 131.7 L739.3 131.8 L739.3 136.6 L736 136.6 L735.9 137.7 L726 140 L717.7 142.5 L709.3 146.6 L696 160 L692.9 169.9 L690.8 170 L689.3 178.4 L696 182.5 L706 185 L714.3 190 L714.3 200 L709.3 209.9 L702.6 215 L692.7 215.8 L682.6 218.3 L676 223.3 L666 227.5 L656 230 L657.1 230.2 L646 235.8 L634.3 238.3 L624.3 237.5 L614.3 240 L604.3 243.3 L592.7 242.4 L576 235.3 L575.9 235.9 L566 236.6 L566.8 241.7 L571 245 L575.9 246.5 L575.9 252.6 L559.3 255.8 L551.2 255.8 L553.5 251.7 L554.4 245 L547.7 244.1 L542.6 246.6 L545.9 253.3 L542.6 256.6 L532.7 257.4 L526 255.8 L519.3 252.5 L509.3 250.8 L497.7 250.8 L461 255.8 L451 260 L426 274.9 L416.1 271.9 L416 268.1 L409.3 266.6 L399.4 263.3 L379.4 253.3 L369.4 250Z M852.7 199.9 L836.9 196.6 L836.9 181.7 L844.3 179.7 L851.8 180 L862.6 186.7 L864.2 198.3 L852.7 199.9Z M761.1 109.1 L756.1 105 L756.1 96.7 L765.9 96.8 L765.9 108.2 L761.1 109.1Z M757.6 139.9 L752.6 140.7 L748.6 136.6 L748.6 130.9 L757.6 130.9 L757.6 139.9Z M424.3 299.9 L418.5 299.9 L417.8 291.7 L421.9 290.1 L425.1 295 L424.3 299.9Z M628.5 219.2 L628.5 215 L623.5 215 L623.5 219.2 L628.5 219.2Z M511.9 147.5 L503.5 147.5 L503.5 150 L503.8 150.1 L504.3 151.4 L511 151.4 L511.5 150.1 L511.9 150 L511.9 147.5Z M489.4 195.4 L493.5 191.7 L493.5 185.8 L489.4 181.6 L482.7 181.6 L477.6 185 L478.5 191.7 L482.6 195.9 L489.4 195.4Z M443.5 139.2 L443.5 137 L433.5 137 L433.5 139.2 L443.5 139.2Z M262.7 217.5 L257.6 220 L255 221.9 L252.7 222.5 L244.3 226.7 L245.1 231.7 L247.6 236.7 L252.6 241.7 L255.9 242.3 L256 244.1 L264.3 243.4 L272.7 241.7 L277.7 236.7 L278.5 228.3 L275.7 222 L268 221.9 L262.7 217.5Z M197.6 145 L194.1 149.9 L193.4 150 L192.6 158.3 L196 165 L202.7 168.4 L207.7 166.7 L212.6 166.7 L216 171.7 L221 181.7 L226 188.4 L239.3 201.7 L248.5 213.4 L253.5 214.2 L257.7 208.4 L261 200 L261.9 191.7 L259.4 183.3 L254.4 176.6 L249.4 168.3 L246.1 160 L246.8 150.1 L253.4 150 L251 138.3 L247.7 130 L242.7 123.3 L236 118.3 L227.7 115.8 L219.3 115.8 L212.6 120 L211 126.7 L211.8 133.3 L209.3 138.3 L202.6 141.6 L197.6 145Z M244.4 286.7 L246 283.4 L252.7 273.4 L254.4 266.7 L249.3 263.3 L239.3 265 L232.6 268.3 L229.3 286.7 L236 290 L244.4 286.7Z M212.6 88.4 L219.3 91.7 L229.3 93.4 L239.3 94.2 L245.2 91.7 L246.9 85 L244.4 79.1 L237.7 75.8 L229.4 74.1 L224.3 69.1 L222.6 71.6 L214.3 74.1 L209.3 80 L209.3 84.2 L212.6 88.4Z M201.3 260.9 L200.2 253.3 L198.5 246.6 L194.4 240 L187.7 235 L179.3 230.3 L169.3 228.3 L162.7 230 L157.6 234.1 L152.6 239.1 L147.6 241.7 L149.3 250 L157.6 253.4 L201.3 260.9Z" fill="#FF7856" fill-rule="evenodd"/>
<path d="M296 276.6 L285 274 L278 276 L276 280 L277.9 286 L276.9 293.5 L269 298.8 L262.7 299.9 L250 300 L250 395 L415.9 395.1 L416 420 L536 420 L536.1 400.1 L700 400 L700 320 L676.1 319.9 L676 283.3 L677.7 274.2 L669.4 263.3 L662.7 260.8 L654.3 263.3 L646 260.8 L639.4 256.6 L631 253.3 L621 251.6 L612.6 255 L604.3 261.6 L596 267.5 L586 269.9 L576 270 L566 271.6 L557.6 275 L549.3 280 L539.3 282.5 L519.3 285.8 L509.3 286.6 L499.3 285.8 L491 283.3 L482.7 280 L471 278.3 L461 280.8 L452.6 285 L447.6 291.6 L445.1 300 L446 300.1 L446.8 308.3 L444.3 313.2 L436 314.1 L426 311.6 L416.1 308.6 L416 300 L396.7 300 L391 305 L382.7 309.1 L372.7 310.8 L362.7 311.6 L352.7 310 L332.7 303.3 L328.7 300 L322.7 299.9 L312.7 295 L304.4 289.1 L297.7 281.6 L296 276.6Z M459.3 327.5 L469.3 329.2 L477.6 331.7 L491 341.7 L495.1 348.4 L498.4 355 L497.6 362.4 L489.3 364.9 L482.7 364.1 L479.4 358.3 L472.7 354.1 L464.3 351.6 L456 350 L446 350 L437.7 351.6 L432.7 348.3 L427.6 353.3 L422.7 354.9 L419.5 351.7 L426 346.7 L431 340 L434.4 333.4 L444.3 323.4 L459.3 327.5Z M383.6 349.2 L384.4 343.4 L389.4 339.2 L396 340.1 L399.3 346.6 L395.9 351.6 L387.7 352.4 L383.6 349.2Z M406 283.4 L409.4 278.3 L402.7 274.9 L392.7 274.1 L384.3 277.5 L382.6 280.8 L384.3 285 L389.3 282.6 L397.7 284.2 L406 283.4Z M380.2 267.5 L376 267.5 L376 270.9 L380.2 270.9 L380.2 267.5Z M371 259.6 L354.3 258 L354.3 258 L354.3 260 L371 261.7 L371 259.6Z M271 238.4 L273.5 233.3 L269.4 228.3 L262.7 225 L256 226.4 L255.9 228.3 L252.6 230 L254.3 236.7 L255.9 237.5 L256 238.5 L262.7 239.2 L271 238.4Z M242.7 278.3 L242.7 271.6 L237.7 270 L233.5 273.3 L236 281.7 L239.3 284.2 L242.7 278.3Z M226.8 130 L229.3 133.4 L234.4 132.5 L236 129.2 L231.8 125.8 L226.8 126.6 L226.8 130Z M227.6 171.7 L232.7 175 L236 170 L234.4 163.3 L226 151.6 L221 153.3 L221.8 159.2 L227.6 171.7Z M173.5 252.5 L177.7 249.2 L178.5 243.3 L176 237.5 L171 234.1 L165.1 236.6 L166 246.7 L168.5 251.7 L173.5 252.5Z" fill="#FF3D3D" fill-rule="evenodd"/>
<path d="M645.2 315 L644.4 308.3 L639.4 303.3 L631 301.6 L619.3 304.1 L607.6 308.3 L597.6 313.3 L591.7 319.9 L584.3 320 L576 323.3 L569.3 328.3 L556 341.6 L547.6 355 L542.6 358.3 L536 359.8 L535.9 363.3 L532.6 365 L519.3 374.9 L511 377.5 L502.6 378.3 L497.6 381.6 L492.6 387.4 L486 388.3 L477.7 384.9 L472.7 380 L469.4 373.3 L464.4 369.1 L456 365.8 L446 365 L426 366.6 L416.1 368.1 L416 367.4 L392.7 365.8 L382.7 363.3 L376 358.3 L372.7 351.6 L374.4 345 L379.4 336.7 L382.7 328.3 L376 321.6 L369.3 316.6 L361 316.6 L352.7 317.5 L342.7 319.1 L332.7 321.6 L322.7 321.6 L306 311.6 L299.4 308.3 L292.7 306.6 L272.7 310 L266 311.6 L250 311.6 L250 395 L415.9 395.1 L416 420 L536 420 L536.1 400.1 L605.5 400 L609.4 376.7 L612.7 374.2 L619.4 375 L621 370 L619.4 364.1 L616.1 359.9 L619.4 353.4 L629.4 343.4 L634.4 339.2 L639.4 335.9 L644.4 333.4 L646 329.2 L642.7 323.3 L644 320 L643.2 319.8 L645.2 315Z M321.9 360 L321.2 355 L329.3 353.4 L339.3 355.9 L338.4 360.8 L329.3 361.6 L321.9 360Z M306 345 L312.6 348.4 L312.6 351.6 L302.7 352.5 L289.3 352.5 L282.7 357.4 L278.6 350 L279.4 341.7 L284.4 336.7 L292.6 335.1 L306 345Z M460.1 316.7 L467.7 317.5 L477.7 316.7 L484.4 312.5 L486.9 306.6 L482.7 301.6 L472.7 300.8 L462.6 302.5 L456.8 306.7 L456.8 312.5 L460.1 316.7Z M472.7 300 L472.7 300 L472.6 300 L472.7 300Z M426 316.7 L416.1 315.1 L416 310.9 L407.7 311.6 L401.8 315 L403.5 323.4 L409.3 327.5 L416 325.3 L416.1 323.2 L424.4 321.7 L426 316.7Z" fill="#D8152F" fill-rule="evenodd"/>
<path d="M534.3 380 L534.3 386.7 L536 386.7 L536 380 L534.3 380Z M339.3 336.6 L349.3 351.7 L356 354.2 L361 351.7 L366 346.7 L370.2 340 L371 333.3 L367.7 330 L359.3 329.1 L349.3 330.8 L342.7 333.3 L339.3 336.6Z" fill="#A50021" fill-rule="evenodd"/>
<path d="M497.5 400.8 L502.5 400.8 L502.5 406.7 L497.5 406.7Z" fill="#A50021"/>
<path d="M535 380 L542.5 380 L542.5 387.5 L535 387.5Z" fill="#A50021"/>
<path d="M664.3 299.2 L665.7 306.7 L669.3 315 L671.8 323.3 L674.7 327.5 L669.3 330 L667.7 333.3 L662.7 334.2 L652.7 338.3 L651 344.2 L646.8 345.8 L646.3 350.8 L642.7 352 L642.3 357.5 L639 358.7 L639.3 366.7 L629.3 367.5 L621 368.3 L621 374.2 L609.3 375.8 L591 377.5 L569.3 378.3 L542.7 380 L542.7 387.5 L536 388.3 L536 400 L702.7 400 L702.7 299.2Z" fill="#fff"/>
<path d="M399.2 368.3 L424.2 369.2 L424.7 377.5 L430.8 378 L431.7 387.5 L456.7 388.3 L457.5 396.7 L497.5 397.5 L497.5 406.7 L502.5 406.7 L502.5 397.5 L524.2 397 L524.2 389.2 L535 388.3 L542.5 387.5 L543.3 380.8 L560.8 380 L560.8 440 L399.2 440Z" fill="#fff"/>
<path d="M255.2 299.2 L261 303.3 L262.7 310 L266.8 311.7 L267.3 321.7 L271.8 322.5 L272.3 340 L276.8 340.8 L277.7 350 L282.7 357.5 L286.8 352.5 L312.7 352 L313.5 362.5 L313.5 400 L255.2 400Z" fill="#fff"/>
<path d="M146 252.5 L157.7 252.5 L169.3 254.5 L186 257.5 L201 260 L207.7 260.8 L208 267 L214.3 267.7 L226 270 L232.3 270 L232.3 276.3 L236.3 276.3 L236.3 283.7 L240.3 284.3 L240.3 290.8 L251 291.7 L251 298.3 L260.2 300 L260.2 320 L136 320Z" fill="#fff"/>
<path d="M751 160 L752.7 168.3 L753.5 175 L760.2 175.8 L761 183.3 L767.3 183.3 L768 175 L777.7 172.5 L789.3 172 L790.2 180.3 L797.3 180.3 L799.3 174.2 L802.7 166.7 L808.5 160.8 L814.3 158.3 L822.7 158.3 L823.5 165 L831 165.8 L831.3 171.7 L837.7 172.5 L837.7 180.8 L844.3 180 L851.8 180.3 L852.7 185.8 L859.3 188 L860.2 195 L852.7 197.2 L844.3 198 L837.7 196.3 L826 200 L814.3 204.2 L809.3 205.8 L801 207.5 L800.2 214.2 L786 215.8 L784.3 221.7 L780.2 225 L778.5 240 L802.7 240 L901 240 L901 146.7 L751 146.7Z" fill="#fff"/>
<path d="M686 115.8 L694.3 110 L702.7 103.3 L711 98 L713.5 100.8 L731.8 100 L733.5 107.5 L756 103.3 L758.5 96.7 L761 101.7 L766 103.3 L772.7 96.7 L772.7 80 L681 80Z" fill="#fff"/>
<path d="M666 128.7 L672.7 126.3 L674.7 130.3 L681.3 129.5 L685.7 123.7 L691.8 115.8 L686 113.3 L666 118.3Z" fill="#fff"/>
<path d="M668.5 283.3 L673.5 282.5 L673.5 273.7 L691 273.7 L693 279.7 L693 285 L682.7 285 L676 288.3 L673.5 296.7 L671 306.7 L669.3 320.8 L660.2 320.8 L660.7 296.7 L668.5 295.8Z" fill="#fff"/>
<path d="M104 113 L108.1 109.4 L115.6 103.5 L117.8 98.3 L126.7 97.1 L129.6 101.6 L142.2 102 L143.3 96.6 L151.9 94.2 L157 89.4 L160 80 L100 80 L100 113Z" fill="#fff"/>
<path d="M684.8 120 L689.8 113.8 L693.5 107.5 L701 101.2 L708.5 95 L713.5 91.2 L722.2 90 L729.8 92.5 L736 97.5 L746 100 L752.2 96.2 L758.5 93.2 L767.2 95 L770.5 98.8 L768.5 108.8 L764.8 122.5 L760 132.5 L757.5 145 L757.5 157.5 L752.5 162.5 L755 170 L763.8 176.2 L772.5 170 L785 167.5 L793.8 170 L798.8 172.5 L803.8 163.8 L810 158.8 L818.8 157 L826.2 160 L832.5 165 L840 167.5 L847.5 173.8 L855 180 L861.2 187.5 L865 195 L862.5 199.5 L855 200.5 L847.5 201.2 L840 198.8 L830 202.5 L822.5 203.8 L815 210 L807.5 211.2 L803.8 216.2 L795 218.8 L787.5 222.5 L782.5 228.8 L780 237.5 L778.8 243.8 L772.5 250 L768 253 L761 257.5 L751 260 L743 262 L738.8 267.5 L732.5 277.5 L726.2 283.8 L720 288 L707.5 287 L697.5 285 L690 280 L680 279.5 L673.8 283.8 L670 292.5 L667 302.5 L666.2 310 L671.2 316.2 L678.8 321.2 L682 327 L677.5 332.5 L670 337.5 L661.2 343.8 L655 351.2 L648.8 358.8 L641.2 365 L632.5 370 L622.5 375 L613.8 378.8 L602.5 380 L590 380 L577.5 380.5 L567.5 381.2 L560 383.8 L555 385 L542.5 388.8 L530 395 L517.5 401.2 L507.5 407.5 L503 412.5 L498.8 410 L491.2 408.8 L490 402.5 L477.5 403.8 L465 401.2 L455 397.5 L445 392.5 L435 390 L425 386.2 L418.8 380 L410 375 L400 372.5 L387.5 371.2 L378.8 369.5 L365 371.2 L355 371.2 L340 368.8 L325 366.2 L312.5 363.8 L300 360.5 L287.5 359.5 L278.8 358.8 L278.8 352.5 L275 347.5 L268.8 337.5 L265.5 327.5 L262.5 315 L257.5 310 L258.8 302.5 L250 301.2 L241.2 295 L232.5 287.5 L222.5 277.5 L210 270 L201 267.5 L188.5 265 L176 261.2 L163.5 257.5 L154.8 252.5 L149.8 246.2 L149.8 236.2" fill="none" stroke="#fff" stroke-width="8" stroke-linejoin="round" stroke-linecap="butt"/>
<path d="M447.2 93.8 L456 100 L463.5 105 L473.5 106.2 L481 106.2 L488.5 102.5 L501 98.8 L511 96.2 L521 97.5 L533.5 100 L543.5 101.2 L549.8 106.2 L554.8 112.5" fill="none" stroke="#fff" stroke-width="6" stroke-linejoin="round" stroke-linecap="butt"/>
<path d="M163.3 83.3 L166.7 93.3 L171.7 105 L178.3 116.7 L185 130.7" fill="none" stroke="#5a4d3e" stroke-opacity="0.75" stroke-width="0.9" stroke-linejoin="round"/>
<path d="M185 130.7 L176.7 131.7 L168.3 131.7 L170 140 L168.3 150 L171.7 163.3 L173.3 176.7 L175 190 L178.3 196.7 L184.3 201.7 L186 206.7 L179.3 205 L172.7 205.7 L167.7 203.3 L165 200" fill="none" stroke="#5a4d3e" stroke-opacity="0.75" stroke-width="0.9" stroke-linejoin="round"/>
<path d="M185 130.7 L195 126.7 L198.3 130 L203.3 136.7 L213.3 141.7 L221.7 145 L230 151.7" fill="none" stroke="#5a4d3e" stroke-opacity="0.75" stroke-width="0.9" stroke-linejoin="round"/>
<path d="M230 151.7 L236.7 146.7 L243.3 141.7 L250 138.3 L256.7 143.3 L266.7 145 L273.3 141.7 L281.7 136.7 L285 128.3 L286.7 120 L283.3 111.7 L285 105" fill="none" stroke="#5a4d3e" stroke-opacity="0.75" stroke-width="0.9" stroke-linejoin="round"/>
<path d="M230 151.7 L228.3 158.3 L226.7 165 L225 170 L228.3 176.7 L233.3 180 L240 176.7 L246.7 175 L255 180 L263.3 183.3 L270 186.7 L280 193.3 L290 203.3 L295 213.3 L303.3 218.3 L313.3 225 L318.3 230" fill="none" stroke="#5a4d3e" stroke-opacity="0.75" stroke-width="0.9" stroke-linejoin="round"/>
<path d="M233.3 180 L231.7 186.7 L236.7 196.7 L241.7 206.7 L233.3 213.3 L226.7 216.7 L223.3 223.3 L221.7 230" fill="none" stroke="#5a4d3e" stroke-opacity="0.75" stroke-width="0.9" stroke-linejoin="round"/>
<path d="M318.3 113.3 L315 121.7 L320 128.3 L330 133.3 L340 140 L350 141.7 L358.3 138.3 L366.7 140 L366.7 150 L365 160 L371.7 165" fill="none" stroke="#5a4d3e" stroke-opacity="0.75" stroke-width="0.9" stroke-linejoin="round"/>
<path d="M371.7 165 L363.3 170 L353.3 168.3 L345 173.3 L340 181.7 L341.7 190 L333.3 198.3 L328.3 210 L323.3 220 L320 225 L318.3 230" fill="none" stroke="#5a4d3e" stroke-opacity="0.75" stroke-width="0.9" stroke-linejoin="round"/>
<path d="M341.7 190 L350 188.3 L355 193.3 L363.3 195 L371.7 191.7 L376.7 196.7 L380 206.7 L386.7 213.3 L395 220 L403.3 223.3 L413.3 221.7" fill="none" stroke="#5a4d3e" stroke-opacity="0.75" stroke-width="0.9" stroke-linejoin="round"/>
<path d="M443.3 91.7 L441.7 103.3 L436.7 113.3 L446.7 118.3 L451.7 123.3 L441.7 130 L430 136.7 L425 143.3 L430 151.7 L436.7 158.3 L441.7 166.7 L445 176.7 L450 186.7 L456.7 193.3 L465 201.7 L471.7 206.7 L476.7 210 L481.7 216.7 L485 226.7 L488.3 240" fill="none" stroke="#5a4d3e" stroke-opacity="0.75" stroke-width="0.9" stroke-linejoin="round"/>
<path d="M493.3 106.7 L495 120 L496.7 131.7 L495 141.7 L491.7 148.3 L493.3 155 L491.7 163.3 L488.3 173.3 L485 181.7 L483.3 188.3 L480 198.3 L476.7 210" fill="none" stroke="#5a4d3e" stroke-opacity="0.75" stroke-width="0.9" stroke-linejoin="round"/>
<path d="M493.3 155 L501.7 160 L506.7 161.7 L513.3 156.7 L520 153.3 L526.7 151.7 L530 156.7 L538.3 161.7 L546.7 161.7 L556.7 158.3 L565 156.7 L566.7 148.3 L571.7 143.3 L580 141.7 L586.7 143.3 L591.7 150 L595 160 L593.3 170 L588.3 180" fill="none" stroke="#5a4d3e" stroke-opacity="0.75" stroke-width="0.9" stroke-linejoin="round"/>
<path d="M523.3 123.3 L528.3 115 L531.7 118.3 L530 126.7 L536.7 130 L543.3 128.3 L545 141.7 L535 141.7 L526.7 143.3 L523.3 135 L523.3 123.3" fill="none" stroke="#5a4d3e" stroke-opacity="0.75" stroke-width="0.9" stroke-linejoin="round"/>
<path d="M483.3 145 L490 143.3 L493.3 148.3 L486.7 151.7 L480 149.3 L483.3 145" fill="none" stroke="#5a4d3e" stroke-opacity="0.75" stroke-width="0.9" stroke-linejoin="round"/>
<path d="M536.7 175 L548.3 175 L556.7 178.3 L563.3 183.3 L565 193.3 L556.7 195 L548.3 191.7 L540 193.3 L536.7 183.3 L536.7 175" fill="none" stroke="#5a4d3e" stroke-opacity="0.75" stroke-width="0.9" stroke-linejoin="round"/>
<path d="M560 203.3 L564 204 L563.3 208.3 L560 207.3 L560 203.3" fill="none" stroke="#5a4d3e" stroke-opacity="0.75" stroke-width="0.9" stroke-linejoin="round"/>
<path d="M476.7 210 L480 216.7 L490 223.3 L500 226.7 L511.7 230 L518.3 233.3 L523.3 228.3 L530 233.3 L540 233.3 L546.7 236.7 L553.3 241.7" fill="none" stroke="#5a4d3e" stroke-opacity="0.75" stroke-width="0.9" stroke-linejoin="round"/>
<path d="M220 223.3 L215 233.3 L210 241.7 L208.3 253.3 L208.3 266" fill="none" stroke="#5a4d3e" stroke-opacity="0.75" stroke-width="0.9" stroke-linejoin="round"/>
<path d="M320 221.7 L323.3 230 L326.7 240 L336.7 250 L341.7 258.3 L338.3 268.3 L340 278.3 L335 288.3 L328.3 300 L323.3 313.3 L321.7 326.7 L320 336.7 L316.7 346.7 L315 361.7" fill="none" stroke="#5a4d3e" stroke-opacity="0.75" stroke-width="0.9" stroke-linejoin="round"/>
<path d="M413.3 222.3 L413.3 223.3 L418.3 233.3 L415 243.3 L411.7 253.3 L408.3 263.3 L406.7 273.3 L405 283.3 L410 291.7 L415 300 L416.7 310 L418.3 318.3 L419.3 325" fill="none" stroke="#5a4d3e" stroke-opacity="0.75" stroke-width="0.9" stroke-linejoin="round"/>
<path d="M361.7 366.7 L361.7 350 L361.7 333.3 L361.7 317.3 L373.3 317.3 L380 325 L385 328.3 L406.7 328.3 L419.3 325 L426.7 321.7" fill="none" stroke="#5a4d3e" stroke-opacity="0.75" stroke-width="0.9" stroke-linejoin="round"/>
<path d="M420 321 L436.7 318.3 L450 315 L453.3 306.7 L460 296.7 L466.7 288.3 L471.7 283.3" fill="none" stroke="#5a4d3e" stroke-opacity="0.75" stroke-width="0.9" stroke-linejoin="round"/>
<path d="M471.7 283.3 L470 273.3 L471.7 266.7 L480 260 L483.3 253.3 L490 245 L496.7 238.3 L506.7 235 L516.7 230 L521.7 228.3 L530 233.3 L540 235 L550 236.7 L558.3 238.3 L566.7 233.3" fill="none" stroke="#5a4d3e" stroke-opacity="0.75" stroke-width="0.9" stroke-linejoin="round"/>
<path d="M471.7 283.3 L480 286.7 L483.3 295 L493.3 298.3 L506.7 301.7 L516.7 308.3 L525 315 L533.3 320 L543.3 316.7 L553.3 313.3 L563.3 310 L571.7 308.3" fill="none" stroke="#5a4d3e" stroke-opacity="0.75" stroke-width="0.9" stroke-linejoin="round"/>
<path d="M571.7 308.3 L573.3 300 L580 293.3 L588.3 286.7 L593.3 281.7 L591.7 271.7" fill="none" stroke="#5a4d3e" stroke-opacity="0.75" stroke-width="0.9" stroke-linejoin="round"/>
<path d="M571.7 308.3 L573.3 316.7 L576.7 326.7 L580 336.7 L581.7 350 L583.3 363.3 L583.3 378.3" fill="none" stroke="#5a4d3e" stroke-opacity="0.75" stroke-width="0.9" stroke-linejoin="round"/>
<path d="M566.7 233.3 L573.3 226.7 L581.7 230 L586.7 223.3 L596.7 226.7 L601.7 220" fill="none" stroke="#5a4d3e" stroke-opacity="0.75" stroke-width="0.9" stroke-linejoin="round"/>
<path d="M670 126.7 L671.7 136.7 L675 146.7 L678.3 156.7 L681.7 166.7 L685 176.7 L688.3 185" fill="none" stroke="#5a4d3e" stroke-opacity="0.75" stroke-width="0.9" stroke-linejoin="round"/>
<path d="M688.3 185 L681.7 186.7 L673.3 190 L666.7 196.7 L660 205 L658.3 215 L656.7 226.7 L655 236.7 L658.3 246.7 L665 256.7 L670 271.7" fill="none" stroke="#5a4d3e" stroke-opacity="0.75" stroke-width="0.9" stroke-linejoin="round"/>
<path d="M688.3 185 L696.7 186.7 L706.7 185 L715 188.3 L720 196.7 L730 201.7 L733.3 210 L741.7 218.3 L753.3 216.7 L766.7 215 L778.3 213.3 L781.7 223.3 L780 234" fill="none" stroke="#5a4d3e" stroke-opacity="0.75" stroke-width="0.9" stroke-linejoin="round"/>
<path d="M603.3 221.7 L601.7 233.3 L596.7 243.3 L593.3 256.7 L591.7 271.7" fill="none" stroke="#5a4d3e" stroke-opacity="0.75" stroke-width="0.9" stroke-linejoin="round"/>
<path d="M626.7 230 L630 238.3 L635 243.3 L640 253.3 L643.3 263.3 L648.3 270" fill="none" stroke="#5a4d3e" stroke-opacity="0.75" stroke-width="0.9" stroke-linejoin="round"/>
<path d="M371.8 168.3 L379.3 165.8 L386 163.3 L391 165.8 L394.3 161.7 L393.5 155 L396 148.3 L398.5 145 L395.2 143.3 L402.7 138.3 L407.7 140 L414.3 145 L422.7 149.2" fill="none" stroke="#5a4d3e" stroke-opacity="0.75" stroke-width="0.9" stroke-linejoin="round"/>
</g>
<path d="M103 107.5 L107.2 100 L114.8 95 L121 92.5 L131 91.2 L136 92.5 L142.2 90 L149.8 87.5 L154 81.2 L161.5 80 L164.8 76.2 L173.5 73.8 L182.2 71.2 L189.8 68.8 L198.5 66.2 L204.8 63 L214.8 63 L219.8 58 L223 63 L226.5 65 L231 63 L233 68.8 L241 71.2 L251 73.2 L259.8 75.5 L262.2 82.5 L263 91.2 L268.5 95 L276 97.5 L286 101.2 L294.8 100 L303.5 102.5 L313.5 105 L322.2 110 L327.2 111.2 L336 106.2 L339.3 106.7 L346.8 100 L351 93.3 L351.8 88.3 L346.8 81.7 L345.2 75 L342.7 70 L345.2 63.3 L347.7 55.8 L352.7 49.2 L356.8 45 L365.2 41.7 L367.3 35.8 L369.3 30.8 L372.7 32.5 L376.8 36.7 L384.3 40 L389.3 42.5 L391.8 46.7 L399.3 47.5 L406 49.2 L411.8 52.5 L416 54.2 L426 58.8 L437.2 63 L440.5 68.8 L439.8 77.5 L442.2 86.2 L447.2 93.8 L456 100 L463.5 105 L473.5 106.2 L481 106.2 L488.5 102.5 L501 98.8 L511 96.2 L521 97.5 L533.5 100 L543.5 101.2 L549.8 106.2 L554.8 112.5 L566 114.5 L572.2 116.2 L574.8 125 L576 127.5 L581 131.2 L591 134.5 L601 134.5 L611 136.2 L621 137.5 L629.8 136.2 L638.5 136.2 L647.2 131.2 L656 128.8 L667.2 125 L676 122 L684.8 120 L689.8 113.8 L693.5 107.5 L701 101.2 L708.5 95 L713.5 91.2 L722.2 90 L729.8 92.5 L736 97.5 L746 100 L752.2 96.2 L758.5 93.2 L767.2 95 L770.5 98.8 L768.5 108.8 L764.8 122.5 L760 132.5 L757.5 145 L757.5 157.5 L752.5 162.5 L755 170 L763.8 176.2 L772.5 170 L785 167.5 L793.8 170 L798.8 172.5 L803.8 163.8 L810 158.8 L818.8 157 L826.2 160 L832.5 165 L840 167.5 L847.5 173.8 L855 180 L861.2 187.5 L865 195 L862.5 199.5 L855 200.5 L847.5 201.2 L840 198.8 L830 202.5 L822.5 203.8 L815 210 L807.5 211.2 L803.8 216.2 L795 218.8 L787.5 222.5 L782.5 228.8 L780 237.5 L778.8 243.8 L772.5 250 L768 253 L761 257.5 L751 260 L743 262 L738.8 267.5 L732.5 277.5 L726.2 283.8 L720 288 L707.5 287 L697.5 285 L690 280 L680 279.5 L673.8 283.8 L670 292.5 L667 302.5 L666.2 310 L671.2 316.2 L678.8 321.2 L682 327 L677.5 332.5 L670 337.5 L661.2 343.8 L655 351.2 L648.8 358.8 L641.2 365 L632.5 370 L622.5 375 L613.8 378.8 L602.5 380 L590 380 L577.5 380.5 L567.5 381.2 L560 383.8 L555 385 L542.5 388.8 L530 395 L517.5 401.2 L507.5 407.5 L503 412.5 L498.8 410 L491.2 408.8 L490 402.5 L477.5 403.8 L465 401.2 L455 397.5 L445 392.5 L435 390 L425 386.2 L418.8 380 L410 375 L400 372.5 L387.5 371.2 L378.8 369.5 L365 371.2 L355 371.2 L340 368.8 L325 366.2 L312.5 363.8 L300 360.5 L287.5 359.5 L278.8 358.8 L278.8 352.5 L275 347.5 L268.8 337.5 L265.5 327.5 L262.5 315 L257.5 310 L258.8 302.5 L250 301.2 L241.2 295 L232.5 287.5 L222.5 277.5 L210 270 L201 267.5 L188.5 265 L176 261.2 L163.5 257.5 L154.8 252.5 L149.8 246.2 L149.8 236.2 L156 228.8 L161 222.5 L159.8 213.8 L164 206.2 L164.8 196.2 L161 187.5 L157.2 180 L156 170 L152.2 161.2 L148.5 155 L142.2 155 L137.2 148.8 L129.8 146.2 L122.2 141.2 L117.2 133.8 L111 126.2 L108.5 120 L104.8 116.2Z" fill="none" stroke="#000" stroke-width="2.8" stroke-linejoin="round"/>
<path d="M601.8 134 C601.4 137 601.6 135.7 600.5 143 C599.4 150.3 600.2 147 598.5 156 C596.8 165 597.7 162 595.5 170 C593.3 178 594.4 172.8 591.8 180 C589.2 187.2 590.7 184.5 587.7 191.7 C584.7 198.9 586.6 195.3 582.7 201.7 C578.8 208.1 580.6 204.6 576 211 C571.4 217.4 573.4 214.8 569 221 C564.6 227.2 565.6 224.2 562.7 229.5 C559.8 234.8 559.8 232.4 560.2 237 C560.6 241.6 560.4 239.2 564 243.3 C567.6 247.4 567 246.4 571 249.2 C575 252 572.1 250 576 251.7 C579.9 253.4 577.1 252.5 582.7 254.2 C588.3 255.9 584.9 255.6 592.7 256.7 C600.5 257.8 597.1 257.5 606 257.5 C614.9 257.5 611 258.1 619.3 256.7 C627.6 255.3 623.2 256.1 631 253.3 C638.8 250.5 635.5 252.2 642.7 248.3 C649.9 244.4 646 245.9 652.7 241.7 C659.4 237.5 654.9 239.4 662.7 235.8 C670.5 232.2 666 233.3 676 230.8 C686 228.3 681.6 229.4 692.7 228.3 C703.8 227.2 698.2 227.6 709.3 227.5 C720.4 227.4 717.1 227.4 726 228 C734.9 228.6 727.1 227.7 736 229.2 C744.9 230.7 741.6 230 752.7 232.5 C763.8 235 760.5 234.4 769.3 236.7 C778.1 239 775.8 238.4 779 239.3" fill="none" stroke="#000" stroke-width="2.7" stroke-linejoin="round" stroke-linecap="round"/>
<rect x="76.5" y="6.2" width="807" height="427.1" fill="none" stroke="#555" stroke-width="1.4"/>
<path d="M61.5 60.4 H76.5 M61.5 134.7 H76.5 M61.5 207.9 H76.5 M61.5 281.2 H76.5 M61.5 354.5 H76.5 M61.5 427.5 H76.5 M883.5 71.7 H898.2 M883.5 145 H898.2 M883.5 218.2 H898.2 M883.5 290.9 H898.2 M883.5 363.4 H898.2 M95.8 433.3 V447.5 M232.5 433.3 V447.5 M368.5 433.3 V447.5 M502.5 433.3 V447.5 M638 433.3 V447.5 M772.5 433.3 V447.5 M177.5 -2 V6.2 M287.1 -2 V6.2 M395.4 -2 V6.2 M502.5 -2 V6.2 M610.4 -2 V6.2 M718.8 -2 V6.2 M828.7 -2 V6.2" fill="none" stroke="#555" stroke-width="1.4"/>
<g font-family="'Liberation Sans', sans-serif" font-size="15" fill="#333">
<text x="52.8" y="65.8" text-anchor="end">50°N</text>
<text x="52.8" y="140.1" text-anchor="end">48°N</text>
<text x="52.8" y="213.3" text-anchor="end">46°N</text>
<text x="52.8" y="286.6" text-anchor="end">44°N</text>
<text x="52.8" y="359.9" text-anchor="end">42°N</text>
<text x="52.8" y="432.9" text-anchor="end">40°N</text>
<text x="908.3" y="77.1">50°N</text>
<text x="908.3" y="150.4">48°N</text>
<text x="908.3" y="223.6">46°N</text>
<text x="908.3" y="296.3">44°N</text>
<text x="908.3" y="368.8">42°N</text>
<text x="95.8" y="469.7" text-anchor="middle">90°E</text>
<text x="232.5" y="469.7" text-anchor="middle">95°E</text>
<text x="368.5" y="469.7" text-anchor="middle">100°E</text>
<text x="502.5" y="469.7" text-anchor="middle">105°E</text>
<text x="638" y="469.7" text-anchor="middle">110°E</text>
<text x="772.5" y="469.7" text-anchor="middle">115°E</text>
</g>
<text transform="translate(408.34 211.39) scale(0.5267 0.5203)" x="0" y="0" font-family="'DejaVu Sans', 'Liberation Sans', sans-serif" font-weight="200" font-size="100" fill="#f00" stroke="#f00" stroke-width="3.8">Д</text>
<text transform="translate(636.43 206.61) scale(0.5778 0.5065)" x="0" y="0" font-family="'DejaVu Sans', 'Liberation Sans', sans-serif" font-weight="200" font-size="100" fill="#000" stroke="#000" stroke-width="3.4">Н</text>
<rect x="83" y="502.5" width="61.36" height="40" fill="#2400D8"/>
<rect x="144.06" y="502.5" width="61.36" height="40" fill="#181CF7"/>
<rect x="205.12" y="502.5" width="61.36" height="40" fill="#3D87FF"/>
<rect x="266.18" y="502.5" width="61.36" height="40" fill="#75D3FF"/>
<rect x="327.25" y="502.5" width="61.36" height="40" fill="#99EAFF"/>
<rect x="388.31" y="502.5" width="61.36" height="40" fill="#BCF9FF"/>
<rect x="449.37" y="502.5" width="61.36" height="40" fill="#FFFFEA"/>
<rect x="510.43" y="502.5" width="61.36" height="40" fill="#FFF1BC"/>
<rect x="571.49" y="502.5" width="61.36" height="40" fill="#FFD699"/>
<rect x="632.55" y="502.5" width="61.36" height="40" fill="#FF7856"/>
<rect x="693.62" y="502.5" width="61.36" height="40" fill="#FF3D3D"/>
<rect x="754.68" y="502.5" width="61.36" height="40" fill="#D8152F"/>
<rect x="815.74" y="502.5" width="61.36" height="40" fill="#A50021"/>
<path d="M83 502.5 V541 M144.06 502.5 V541 M205.12 502.5 V541 M266.18 502.5 V541 M327.25 502.5 V541 M388.31 502.5 V541 M449.37 502.5 V541 M510.43 502.5 V541 M571.49 502.5 V541 M632.55 502.5 V541 M693.62 502.5 V541 M754.68 502.5 V541 M815.74 502.5 V541 M876.8 502.5 V541" stroke="#000" stroke-opacity="0.55" stroke-width="0.8" fill="none"/>
<path d="M83 502.5 H876.8" stroke="#777" stroke-opacity="0.6" stroke-width="0.8" fill="none"/>
</svg>
</body></html>
